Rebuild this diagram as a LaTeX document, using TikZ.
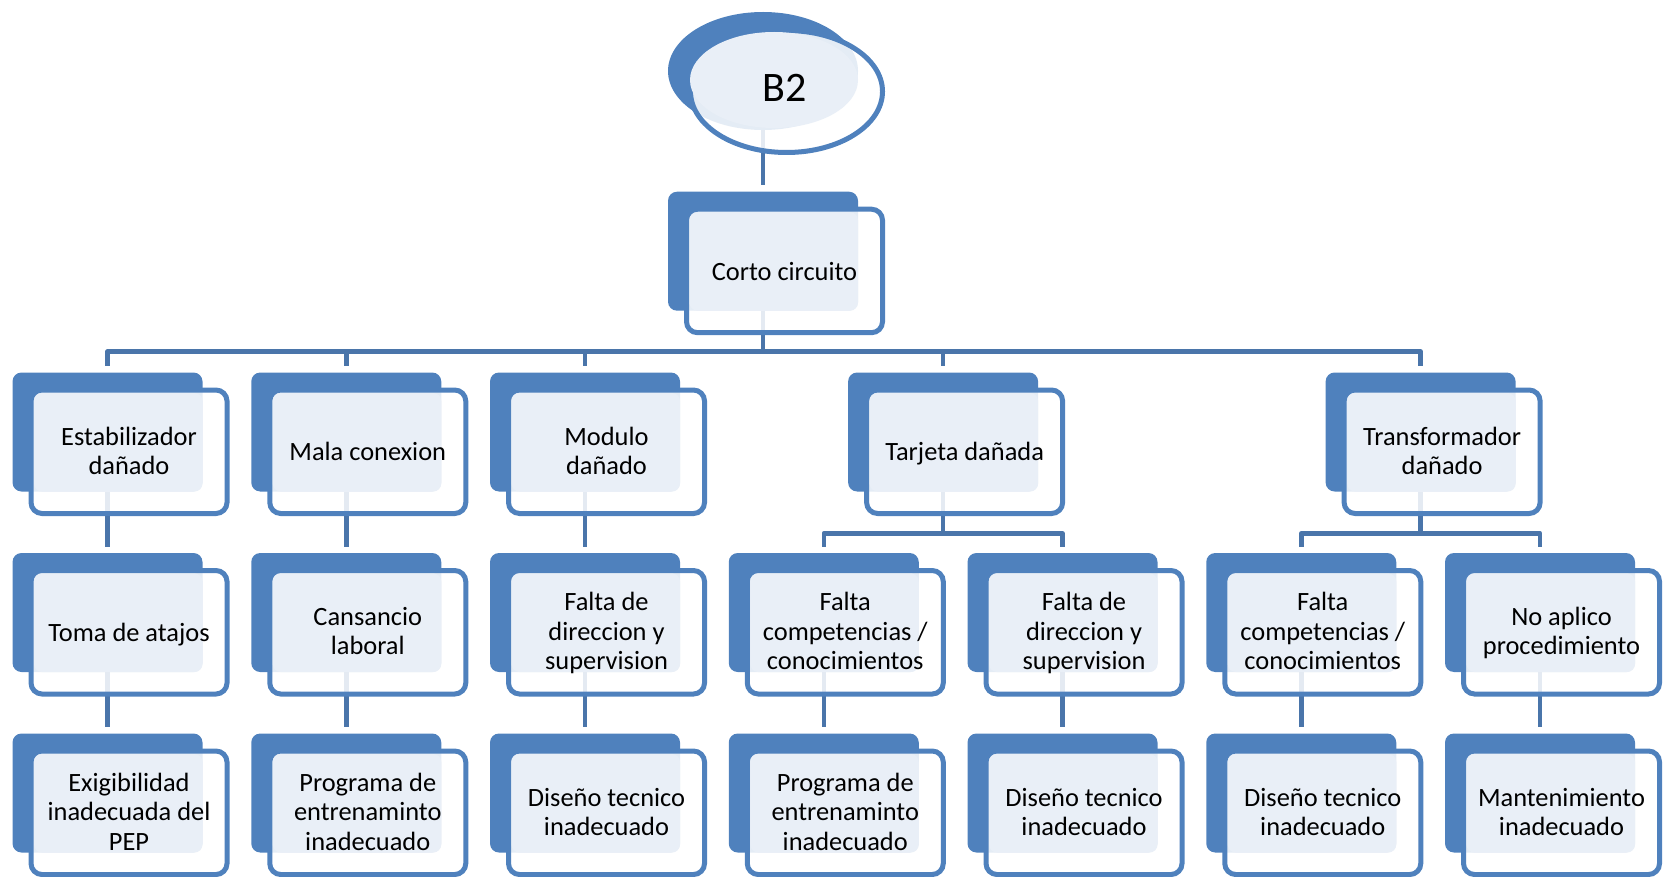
\documentclass[tikz,border=0pt]{standalone}
\usepackage{fontspec}
\setmainfont{Carlito}
\usetikzlibrary{shapes.geometric}
\pgfdeclarelayer{bg}
\pgfsetlayers{bg,main}

\definecolor{sablue}{HTML}{4F81BD}
\definecolor{salight}{HTML}{E9EFF7}
\definecolor{saline}{HTML}{4A75AA}

\tikzset{
  darkbox/.style={rectangle, rounded corners=9pt, fill=sablue, draw=none,
    minimum width=190pt, minimum height=119pt, inner sep=0pt, outer sep=0pt},
  framebox/.style={rectangle, rounded corners=11pt, draw=sablue, line width=5pt,
    fill=white, fill opacity=0.85,
    minimum width=196pt, minimum height=123.5pt, inner sep=0pt, outer sep=0pt},
  lightbox/.style={rectangle, rounded corners=8pt, fill=salight, draw=none,
    minimum width=168.5pt, minimum height=98.5pt, inner sep=0pt, outer sep=0pt},
  darkell/.style={ellipse, fill=sablue, draw=none,
    minimum width=190pt, minimum height=118pt, inner sep=0pt, outer sep=0pt},
  frameell/.style={ellipse, draw=sablue, line width=5pt, fill=white, fill opacity=0.85,
    minimum width=192pt, minimum height=122pt, inner sep=0pt, outer sep=0pt},
  lightell/.style={ellipse, fill=salight, draw=none,
    minimum width=168pt, minimum height=96pt, inner sep=0pt, outer sep=0pt},
  txt/.style={align=center, inner sep=0pt, text=black,
    font=\fontsize{26.4}{29.3}\selectfont},
  struttxt/.style={txt, execute at begin node=\strut, execute at end node=\strut},
  conn/.style={draw=saline, line width=4.5pt, line join=round},
}

% one cause box: name, x, y (top-left of the dark block), text
\newcommand\causebox[4]{%
  \node[darkbox, anchor=north west] (#1-d) at (#2,#3) {};
  \node[framebox, anchor=north west] (#1-f) at (#2+18.5,#3+17.5) {};
  \node[lightbox, anchor=north west] (#1-l) at (#2+21.5,#3+20.5) {};
  \node[struttxt] (#1) at (#2+116.5,#3+82.5) {#4};
}

\begin{document}
\begin{tikzpicture}[x=1pt, y=-1pt]
\useasboundingbox (0,0) rectangle (1667,877);

% top event
\node[darkell] (b2-d) at (763,71) {};
\node[frameell] (b2-f) at (786.5,91.5) {};
\node[lightell] (b2-l) at (774,80) {};
\node[txt, font=\fontsize{42}{46}\selectfont] (b2) at (784.5,88) {B2};

% level 0
\causebox{corto}{668}{191.7}{Corto circuito}

% level 1
\causebox{est}{12.5}{372.5}{Estabilizador\\dañado}
\causebox{mala}{251.25}{372.5}{Mala conexion}
\causebox{mod}{490}{372.5}{Modulo\\dañado}
\causebox{tarj}{848.1}{372.5}{Tarjeta dañada}
\causebox{trans}{1325.6}{372.5}{Transformador\\dañado}

% level 2
\causebox{toma}{12.5}{553}{Toma de atajos}
\causebox{cans}{251.25}{553}{Cansancio\\laboral}
\causebox{fdA}{490}{553}{Falta de\\direccion y\\supervision}
\causebox{fcA}{728.75}{553}{Falta\\competencias /\\conocimientos}
\causebox{fdB}{967.5}{553}{Falta de\\direccion y\\supervision}
\causebox{fcB}{1206.25}{553}{Falta\\competencias /\\conocimientos}
\causebox{noap}{1445}{553}{No aplico\\procedimiento}

% level 3
\causebox{exig}{12.5}{733.5}{Exigibilidad\\inadecuada del\\PEP}
\causebox{progA}{251.25}{733.5}{Programa de\\entrenaminto\\inadecuado}
\causebox{disA}{490}{733.5}{Diseño tecnico\\inadecuado}
\causebox{progB}{728.75}{733.5}{Programa de\\entrenaminto\\inadecuado}
\causebox{disB}{967.5}{733.5}{Diseño tecnico\\inadecuado}
\causebox{disC}{1206.25}{733.5}{Diseño tecnico\\inadecuado}
\causebox{mant}{1445}{733.5}{Mantenimiento\\inadecuado}

% connectors, behind the boxes
\begin{pgfonlayer}{bg}
  \coordinate (bus1) at (0,351.7);
  \coordinate (bus2) at (0,533.3);
  \draw[conn, shorten >=6.5pt] (b2-d.south) -- (b2-d.south |- corto-d.north);
  \foreach \k in {est,mala,mod,tarj,trans}
    \draw[conn, shorten >=6.5pt] (corto-d.south) -- (corto-d.south |- bus1) -| (\k-d.north);
  \draw[conn, shorten >=6.5pt] (est-d.south) -- (toma-d.north);
  \draw[conn, shorten >=6.5pt] (mala-d.south) -- (cans-d.north);
  \draw[conn, shorten >=6.5pt] (mod-d.south) -- (fdA-d.north);
  \foreach \k in {fcA,fdB}
    \draw[conn, shorten >=6.5pt] (tarj-d.south) -- (tarj-d.south |- bus2) -| (\k-d.north);
  \foreach \k in {fcB,noap}
    \draw[conn, shorten >=6.5pt] (trans-d.south) -- (trans-d.south |- bus2) -| (\k-d.north);
  \draw[conn, shorten >=6.5pt] (toma-d.south) -- (exig-d.north);
  \draw[conn, shorten >=6.5pt] (cans-d.south) -- (progA-d.north);
  \draw[conn, shorten >=6.5pt] (fdA-d.south) -- (disA-d.north);
  \draw[conn, shorten >=6.5pt] (fcA-d.south) -- (progB-d.north);
  \draw[conn, shorten >=6.5pt] (fdB-d.south) -- (disB-d.north);
  \draw[conn, shorten >=6.5pt] (fcB-d.south) -- (disC-d.north);
  \draw[conn, shorten >=6.5pt] (noap-d.south) -- (mant-d.north);
\end{pgfonlayer}
\end{tikzpicture}
\end{document}
